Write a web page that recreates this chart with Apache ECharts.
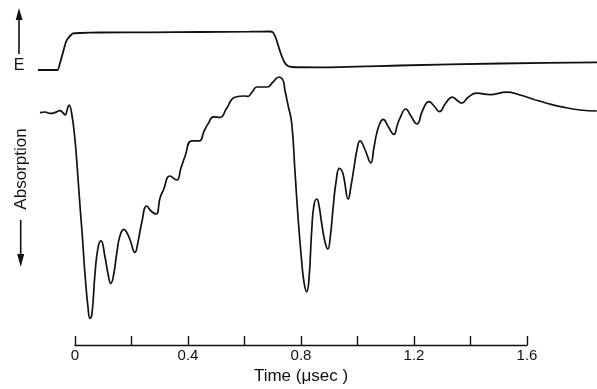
<!DOCTYPE html>
<html>
<head>
<meta charset="utf-8">
<script src="https://cdn.jsdelivr.net/npm/echarts@6/dist/echarts.min.js"></script>
<style>
html,body{margin:0;padding:0;background:#fff;}
#chart{width:597px;height:389px;}
</style>
</head>
<body>
<div id="chart"></div>
<script>
// Time in microseconds
var eTime = [-0.131,-0.062,-0.053,-0.042,-0.032,-0.024,-0.014,-0.007,0.018,0.088,0.265,0.442,0.619,0.690,0.701,0.711,0.722,0.733,0.743,0.754,0.768,0.867,1.150,1.504,1.848];
// Electric field pulse (arbitrary units, 0 = off, 1 = on)
var eField = [0,0,0.184,0.474,0.737,0.842,0.921,0.961,0.974,0.987,0.992,1.0,1.008,1.013,0.987,0.842,0.579,0.342,0.184,0.105,0.079,0.071,0.118,0.171,0.203];

var absTime = [-0.124,-0.106,-0.088,-0.071,-0.053,-0.042,-0.035,-0.028,-0.021,-0.012,0.000,0.009,0.018,0.027,0.035,0.047,0.053,0.060,0.071,0.082,0.092,0.106,0.117,0.127,0.136,0.148,0.159,0.173,0.184,0.195,0.212,0.223,0.236,0.254,0.269,0.287,0.301,0.313,0.336,0.360,0.375,0.389,0.413,0.440,0.457,0.472,0.490,0.513,0.537,0.566,0.602,0.612,0.627,0.644,0.680,0.701,0.722,0.736,0.743,0.754,0.767,0.779,0.791,0.803,0.811,0.820,0.828,0.838,0.846,0.856,0.864,0.873,0.885,0.895,0.904,0.914,0.924,0.936,0.945,0.952,0.967,0.977,0.988,0.998,1.009,1.027,1.047,1.058,1.068,1.080,1.091,1.109,1.129,1.140,1.150,1.171,1.189,1.210,1.231,1.253,1.271,1.290,1.312,1.336,1.351,1.369,1.392,1.422,1.469,1.528,1.575,1.622,1.670,1.728,1.788,1.847];
// Absorption (arbitrary units, increasing downward)
var absorption = [0.003,0.000,0.007,0.003,-0.007,0.005,0.015,-0.010,-0.035,0.005,0.140,0.300,0.475,0.640,0.805,0.990,1.032,1.010,0.805,0.674,0.644,0.724,0.810,0.857,0.820,0.705,0.620,0.587,0.605,0.640,0.702,0.650,0.555,0.470,0.495,0.510,0.430,0.390,0.320,0.340,0.280,0.224,0.144,0.144,0.095,0.057,0.024,0.027,-0.019,-0.074,-0.080,-0.078,-0.100,-0.125,-0.125,-0.150,-0.175,-0.160,-0.110,-0.035,0.055,0.305,0.555,0.755,0.855,0.899,0.840,0.590,0.465,0.435,0.470,0.555,0.650,0.685,0.620,0.474,0.350,0.282,0.295,0.330,0.435,0.370,0.274,0.190,0.144,0.190,0.254,0.180,0.107,0.055,0.037,0.074,0.112,0.070,0.032,-0.015,0.020,0.060,-0.010,-0.052,-0.030,-0.002,-0.044,-0.074,-0.060,-0.044,-0.074,-0.094,-0.087,-0.099,-0.085,-0.064,-0.044,-0.024,-0.010,-0.005];

var tickValues = [0,0.4,0.8,1.2,1.6];
var tickLabels = ['0','0.4','0.8','1.2','1.6'];

function pairs(xs, ys){ return xs.map(function(x,i){ return [x, ys[i]]; }); }

var ink = '#111111';
var chart = echarts.init(document.getElementById('chart'));
chart.setOption({
  animation: false,
  backgroundColor: '#ffffff',
  grid: [
    {left: 38, right: 0, top: 0, bottom: 0},
    {left: 75, width: 452, top: 300, height: 45}
  ],
  xAxis: [
    {gridIndex: 0, type: 'value', min: -0.13097, max: 1.84779, show: false},
    {gridIndex: 1, type: 'value', min: 0, max: 1.6, interval: 0.2,
     axisLine: {show: true, lineStyle: {color: ink, width: 1.4}},
     axisTick: {show: true, inside: true, length: 9, lineStyle: {color: ink, width: 1.4}},
     splitLine: {show: false},
     axisLabel: {margin: 3, color: ink, fontFamily: 'Liberation Sans', fontSize: 15,
       formatter: function(v){
         for (var i = 0; i < tickValues.length; i++) {
           if (Math.abs(v - tickValues[i]) < 1e-6) return tickLabels[i];
         }
         return '';
       }},
     name: 'Time (\u03BCsec )', nameLocation: 'middle', nameGap: 23,
     nameTextStyle: {color: ink, fontFamily: 'Liberation Sans', fontSize: 17}
    }
  ],
  yAxis: [
    {gridIndex: 0, type: 'value', min: -8.395, max: 1.842, show: false},
    {gridIndex: 0, type: 'value', min: -0.56, max: 1.385, inverse: true, show: false},
    {gridIndex: 1, type: 'value', min: 0, max: 1, show: false}
  ],
  series: [
    {type: 'line', xAxisIndex: 0, yAxisIndex: 0, data: pairs(eTime, eField),
     showSymbol: false, smooth: 0.2, lineStyle: {color: ink, width: 1.8}, silent: true},
    {type: 'line', xAxisIndex: 0, yAxisIndex: 1, data: pairs(absTime, absorption),
     showSymbol: false, smooth: 0.5, lineStyle: {color: ink, width: 1.7}, silent: true}
  ],
  graphic: [
    {type: 'line', shape: {x1: 19, y1: 54, x2: 19, y2: 18}, style: {stroke: ink, lineWidth: 1.6}},
    {type: 'polygon', shape: {points: [[15.7,20],[22.5,20],[19,8]]}, style: {fill: ink}},
    {type: 'text', x: 19, y: 66, style: {text: 'E', fill: ink, font: '16px "Liberation Sans"', align: 'center', verticalAlign: 'middle'}},
    {type: 'text', x: 21, y: 169, rotation: Math.PI/2, style: {text: 'Absorption', fill: ink, font: '17px "Liberation Sans"', align: 'center', verticalAlign: 'middle'}},
    {type: 'line', shape: {x1: 20.7, y1: 220, x2: 20.7, y2: 256}, style: {stroke: ink, lineWidth: 1.6}},
    {type: 'polygon', shape: {points: [[17.2,254],[24.2,254],[20.7,267]]}, style: {fill: ink}}
  ]
});
</script>
</body>
</html>
